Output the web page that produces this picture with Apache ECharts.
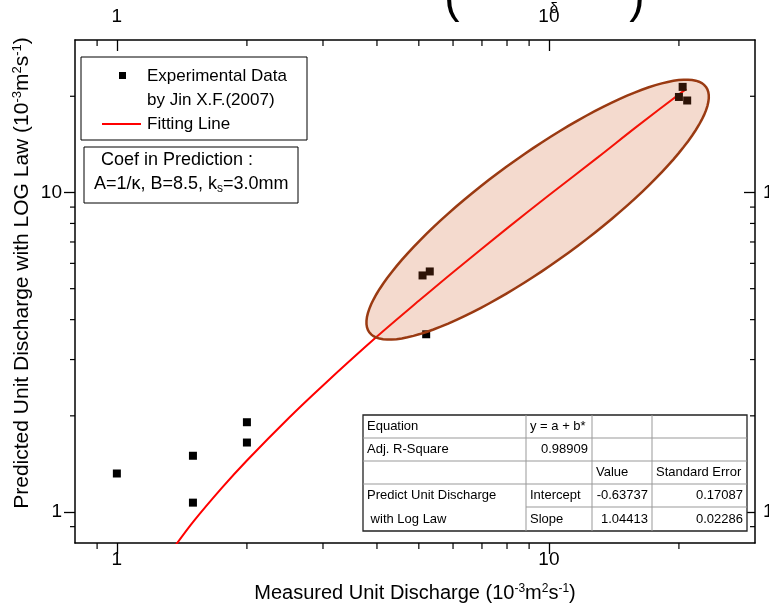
<!DOCTYPE html>
<html><head><meta charset="utf-8">
<script src="https://cdn.jsdelivr.net/npm/echarts@6/dist/echarts.min.js"></script>
<style>html,body{margin:0;padding:0;background:#fff}#c{width:769px;height:606px}</style>
</head><body><div id="c"></div>
<script>
// ---- data ----
const measured  = [1.0, 1.5, 1.5, 2.0, 2.0, 5.1, 5.3, 5.2, 20.4, 20.0, 20.9];
const predicted = [1.32, 1.50, 1.07, 1.91, 1.65, 5.5, 5.66, 3.6, 21.4, 19.9, 19.4];
const fitX = [1.37, 1.5, 1.75, 2.0, 2.5, 3.0, 4.0, 5.0, 6.0, 8.0, 10.0, 13.0, 16.0, 20.8];
const fitY = [0.79, 0.93, 1.19, 1.45, 1.97, 2.49, 3.54, 4.58, 5.63, 7.72, 9.80, 12.9, 16.1, 21.1];
const minorTickValues = [0.9, 2, 3, 4, 5, 6, 7, 8, 9, 20];
const tableRows = [
  ['Equation', 'y = a + b*', '', ''],
  ['Adj. R-Square', '0.98909', '', ''],
  ['', '', 'Value', 'Standard Error'],
  ['Predict Unit Discharge', 'Intercept', '-0.63737', '0.17087'],
  [' with Log Law', 'Slope', '1.04413', '0.02286']
];
const legendLabels = ['Experimental Data', 'by Jin X.F.(2007)', 'Fitting Line'];
const ellipseEnds = [[3.84, 3.65], [23.1, 21.4]]; // highlighted cluster (data coords)

// ---- layout ----
const FONT = '"Liberation Sans", Arial, sans-serif';
const G = {l: 75, r: 755, t: 40, b: 543};
const chart = echarts.init(document.getElementById('c'), null, {renderer: 'canvas'});

function logAxis(pos, inside, margin) {
  return {
    type: 'log', logBase: 10, min: 0.8, max: 30, position: pos,
    axisLine: {show: true, onZero: false, lineStyle: {color: '#000', width: 1.5}},
    axisTick: {show: true, inside: inside, length: 11, lineStyle: {color: '#000', width: 1.3}},
    axisLabel: {show: true, color: '#000', fontSize: 19, fontFamily: FONT, margin: margin,
      showMinLabel: false, showMaxLabel: false, hideOverlap: false,
      formatter: v => String(Math.round(v * 100) / 100)},
    splitLine: {show: false}, minorTick: {show: false}
  };
}

const pairs = measured.map((v, i) => [v, predicted[i]]);
const fitPairs = fitX.map((v, i) => [v, fitY[i]]);

chart.setOption({
  animation: false,
  backgroundColor: '#fff',
  grid: {left: G.l, right: 769 - G.r, top: G.t, bottom: 606 - G.b, containLabel: false, outerBoundsMode: 'none'},
  xAxis: [logAxis('bottom', false, 7), logAxis('top', true, 14)],
  yAxis: [logAxis('left', false, 13), logAxis('right', true, 8)],
  series: [
    {type: 'line', name: 'Fitting Line', data: fitPairs, smooth: 0.3, showSymbol: false, clip: true,
     lineStyle: {color: '#ff0000', width: 2}, z: 3},
    {type: 'scatter', name: 'Experimental Data', data: pairs, symbol: 'rect', symbolSize: 8,
     itemStyle: {color: '#000', opacity: 1}, z: 4}
  ]
});

// ---- overlay graphics ----
const els = [];
const px = v => chart.convertToPixel({xAxisIndex: 0}, v);
const py = v => chart.convertToPixel({yAxisIndex: 0}, v);

// minor ticks
minorTickValues.forEach(v => {
  const x = px(v), y = py(v);
  els.push({type: 'line', shape: {x1: x, y1: G.b, x2: x, y2: G.b + 6}, style: {stroke: '#000', lineWidth: 1.2}, z: 20});
  els.push({type: 'line', shape: {x1: x, y1: G.t, x2: x, y2: G.t + 6}, style: {stroke: '#000', lineWidth: 1.2}, z: 20});
  els.push({type: 'line', shape: {x1: G.l, y1: y, x2: G.l - 5, y2: y}, style: {stroke: '#000', lineWidth: 1.2}, z: 20});
  els.push({type: 'line', shape: {x1: G.r, y1: y, x2: G.r - 5, y2: y}, style: {stroke: '#000', lineWidth: 1.2}, z: 20});
});

// ellipse highlight (semi-transparent, on top)
const p1 = chart.convertToPixel({xAxisIndex: 0, yAxisIndex: 0}, ellipseEnds[0]);
const p2 = chart.convertToPixel({xAxisIndex: 0, yAxisIndex: 0}, ellipseEnds[1]);
const cx = (p1[0] + p2[0]) / 2, cy = (p1[1] + p2[1]) / 2;
const ea = Math.hypot(p2[0] - p1[0], p2[1] - p1[1]) / 2, eb = 53;
const th = Math.atan2(p2[1] - p1[1], p2[0] - p1[0]);
const ePts = [];
for (let i = 0; i < 120; i++) {
  const t = i / 120 * Math.PI * 2;
  ePts.push([cx + ea * Math.cos(t) * Math.cos(th) - eb * Math.sin(t) * Math.sin(th),
             cy + ea * Math.cos(t) * Math.sin(th) + eb * Math.sin(t) * Math.cos(th)]);
}
els.push({type: 'polygon', shape: {points: ePts}, style: {fill: 'rgba(204,85,34,0.22)', stroke: '#9a3a12', lineWidth: 2.5}, z: 30});

// legend box
els.push({type: 'rect', shape: {x: 81, y: 57, width: 226, height: 83}, style: {fill: '#fff', stroke: '#000', lineWidth: 1}, z: 40});
els.push({type: 'rect', shape: {x: 119, y: 72, width: 7, height: 7}, style: {fill: '#000'}, z: 41});
els.push({type: 'line', shape: {x1: 102, y1: 124, x2: 141, y2: 124}, style: {stroke: '#ff0000', lineWidth: 2}, z: 41});
[[legendLabels[0], 76], [legendLabels[1], 100], [legendLabels[2], 124]].forEach(([s, y]) => {
  els.push({type: 'text', x: 147, y: y, style: {text: s, fill: '#000', font: '17px ' + FONT, textAlign: 'left', textVerticalAlign: 'middle'}, z: 41});
});

// coefficient box
els.push({type: 'rect', shape: {x: 84, y: 147, width: 214, height: 56}, style: {fill: '#fff', stroke: '#000', lineWidth: 1}, z: 40});
els.push({type: 'text', x: 101, y: 160, style: {text: 'Coef in Prediction :', fill: '#000', font: '18px ' + FONT, textAlign: 'left', textVerticalAlign: 'middle'}, z: 41});
els.push({type: 'text', x: 94, y: 184, style: {
  text: 'A=1/κ, B=8.5, k{sub|s}=3.0mm', fill: '#000', font: '18px ' + FONT, textAlign: 'left', textVerticalAlign: 'middle',
  rich: {sub: {fontSize: 12, fontFamily: FONT, fill: '#000', verticalAlign: 'bottom', padding: [9, 0, 0, 0]}}}, z: 41});

// fit table
const colX = [363, 526, 592, 652, 747];
const rowY = [415, 438, 461, 484, 507, 531];
const alignM = [
  ['left', 'left', 'left', 'left'],
  ['left', 'right', 'left', 'left'],
  ['left', 'left', 'left', 'left'],
  ['left', 'left', 'right', 'right'],
  ['left', 'left', 'right', 'right']
];
els.push({type: 'rect', shape: {x: colX[0], y: rowY[0], width: colX[4] - colX[0], height: rowY[5] - rowY[0]}, style: {fill: '#fff', stroke: '#222', lineWidth: 1.3}, z: 40});
for (let c = 1; c < 4; c++) els.push({type: 'line', shape: {x1: colX[c], y1: rowY[0], x2: colX[c], y2: rowY[5]}, style: {stroke: '#999', lineWidth: 1}, z: 41});
for (let r = 1; r < 5; r++) els.push({type: 'line', shape: {x1: r === 4 ? colX[1] : colX[0], y1: rowY[r], x2: colX[4], y2: rowY[r]}, style: {stroke: '#999', lineWidth: 1}, z: 41});
tableRows.forEach((row, r) => row.forEach((s, c) => {
  if (!s) return;
  const al = alignM[r][c];
  const x = al === 'left' ? colX[c] + 4 : colX[c + 1] - 4;
  els.push({type: 'text', x: x, y: (rowY[r] + rowY[r + 1]) / 2, style: {text: s, fill: '#000', font: '13px ' + FONT, textAlign: al, textVerticalAlign: 'middle'}, z: 42});
}));

// axis titles
const supRich = {sup: {fontSize: 12, fontFamily: FONT, fill: '#000', verticalAlign: 'top', padding: [0, 0, 9, 0]}};
els.push({type: 'text', x: 415, y: 593, style: {text: 'Measured Unit Discharge (10{sup|-3}m{sup|2}s{sup|-1})', fill: '#000', font: '20px ' + FONT, textAlign: 'center', textVerticalAlign: 'middle', rich: supRich}, z: 41});
els.push({type: 'text', x: 22, y: 273, rotation: Math.PI / 2, style: {text: 'Predicted Unit Discharge with LOG Law (10{sup|-3}m{sup|2}s{sup|-1})', fill: '#000', font: '21px ' + FONT, textAlign: 'center', textVerticalAlign: 'middle', rich: {sup: {fontSize: 13, fontFamily: FONT, fill: '#000', verticalAlign: 'top', padding: [0, 0, 9, 0]}}}, z: 41});

// cut-off formula fragment at the top edge
els.push({type: 'text', x: 452, y: 22, style: {text: '(', fill: '#000', font: '46px ' + FONT, textAlign: 'center', textVerticalAlign: 'bottom'}, z: 41});
els.push({type: 'text', x: 637, y: 22, style: {text: ')', fill: '#000', font: '46px ' + FONT, textAlign: 'center', textVerticalAlign: 'bottom'}, z: 41});
els.push({type: 'text', x: 537, y: 6, style: {text: 'κ', fill: '#000', font: 'bold 26px ' + FONT, textAlign: 'center', textVerticalAlign: 'bottom'}, z: 41});
els.push({type: 'text', x: 554, y: 9, style: {text: 'δ', fill: '#000', font: '15px ' + FONT, textAlign: 'center', textVerticalAlign: 'middle'}, z: 41});

chart.setOption({graphic: {elements: els}});
</script></body></html>
